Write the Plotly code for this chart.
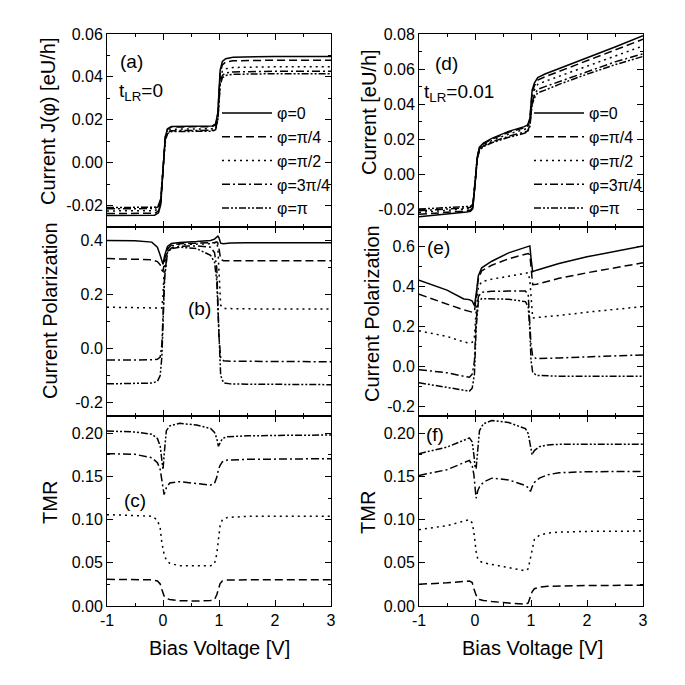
import plotly.graph_objects as go

# ---------------- data ----------------
names = ["φ=0", "φ=π/4", "φ=π/2", "φ=3π/4", "φ=π"]

# (a) current, t_LR = 0
xa = [-1, -0.5, -0.15, -0.08, -0.04, 0, 0.04, 0.08, 0.15, 0.5, 0.88, 0.94, 0.98, 1.0, 1.02, 1.06, 1.12, 1.25, 1.5, 2, 3]
a_phi0 = [-0.0246, -0.0246, -0.0245, -0.0234, -0.0196, -0.0038, 0.0120, 0.0158, 0.0169, 0.0170, 0.0171, 0.0181, 0.0235, 0.0333, 0.0430, 0.0472, 0.0485, 0.0492, 0.0494, 0.0495, 0.0495]
a_phi1 = [-0.0237, -0.0237, -0.0236, -0.0225, -0.0189, -0.0035, 0.0119, 0.0155, 0.0166, 0.0167, 0.0168, 0.0177, 0.0229, 0.0323, 0.0416, 0.0456, 0.0469, 0.0475, 0.0477, 0.0478, 0.0478]
a_phi2 = [-0.0225, -0.0225, -0.0224, -0.0214, -0.0179, -0.0034, 0.0111, 0.0146, 0.0156, 0.0157, 0.0158, 0.0166, 0.0215, 0.0302, 0.0389, 0.0427, 0.0438, 0.0444, 0.0446, 0.0447, 0.0447]
a_phi3 = [-0.0215, -0.0215, -0.0214, -0.0204, -0.0171, -0.0033, 0.0106, 0.0139, 0.0149, 0.0150, 0.0151, 0.0158, 0.0205, 0.0288, 0.0371, 0.0407, 0.0418, 0.0423, 0.0425, 0.0426, 0.0426]
a_phi4 = [-0.0209, -0.0209, -0.0208, -0.0198, -0.0166, -0.0032, 0.0103, 0.0135, 0.0145, 0.0146, 0.0147, 0.0154, 0.0200, 0.0280, 0.0361, 0.0396, 0.0407, 0.0412, 0.0414, 0.0415, 0.0415]

# (b) current polarization, t_LR = 0
xb = [-1, -0.5, -0.2, -0.1, -0.05, -0.02, 0, 0.03, 0.08, 0.15, 0.3, 0.6, 0.85, 0.92, 0.96, 0.98, 1.0, 1.03, 1.08, 1.2, 1.5, 2, 3]
b_phi0 = [0.400, 0.399, 0.394, 0.375, 0.345, 0.318, 0.312, 0.345, 0.378, 0.389, 0.393, 0.396, 0.400, 0.405, 0.412, 0.416, 0.410, 0.390, 0.388, 0.391, 0.392, 0.392, 0.392]
b_phi1 = [0.333, 0.332, 0.329, 0.322, 0.310, 0.290, 0.285, 0.330, 0.370, 0.383, 0.388, 0.390, 0.390, 0.392, 0.395, 0.390, 0.370, 0.330, 0.325, 0.325, 0.325, 0.325, 0.325]
b_phi2 = [0.153, 0.152, 0.151, 0.150, 0.148, 0.150, 0.200, 0.320, 0.368, 0.380, 0.385, 0.387, 0.388, 0.392, 0.395, 0.370, 0.280, 0.160, 0.148, 0.147, 0.147, 0.146, 0.146]
b_phi3 = [-0.043, -0.043, -0.042, -0.040, -0.032, 0.015, 0.130, 0.275, 0.360, 0.372, 0.378, 0.380, 0.375, 0.355, 0.300, 0.200, 0.040, -0.035, -0.045, -0.047, -0.048, -0.048, -0.049]
b_phi4 = [-0.131, -0.130, -0.128, -0.122, -0.100, -0.030, 0.120, 0.265, 0.355, 0.370, 0.375, 0.370, 0.345, 0.320, 0.250, 0.140, 0.000, -0.100, -0.127, -0.131, -0.132, -0.133, -0.134]

# (c) TMR, t_LR = 0
xc = [-1, -0.5, -0.2, -0.1, -0.05, -0.02, 0, 0.02, 0.06, 0.12, 0.3, 0.6, 0.85, 0.92, 0.96, 0.99, 1.02, 1.06, 1.15, 1.5, 2, 3]
c_phi1 = [0.0309, 0.0307, 0.0303, 0.0290, 0.0255, 0.0190, 0.0150, 0.0116, 0.0088, 0.0075, 0.0062, 0.0058, 0.0064, 0.0075, 0.0130, 0.0200, 0.0260, 0.0290, 0.0300, 0.0303, 0.0305, 0.0305]
c_phi2 = [0.1058, 0.1052, 0.1040, 0.0996, 0.0900, 0.0730, 0.0660, 0.0600, 0.0530, 0.0495, 0.0465, 0.0463, 0.0465, 0.0490, 0.0600, 0.0770, 0.0930, 0.1000, 0.1025, 0.1038, 0.1040, 0.1040]
c_phi3 = [0.1764, 0.1756, 0.1717, 0.1660, 0.1580, 0.1470, 0.1360, 0.1290, 0.1370, 0.1425, 0.1440, 0.1417, 0.1400, 0.1420, 0.1490, 0.1580, 0.1630, 0.1670, 0.1690, 0.1698, 0.1702, 0.1706]
c_phi4 = [0.2026, 0.2015, 0.1990, 0.1940, 0.1850, 0.1650, 0.1580, 0.1750, 0.2030, 0.2085, 0.2115, 0.2095, 0.2055, 0.2010, 0.1940, 0.1850, 0.1890, 0.1940, 0.1960, 0.1970, 0.1975, 0.1980]

# (d) current, t_LR = 0.01
xd = [-1, -0.5, -0.15, -0.08, -0.04, 0, 0.04, 0.08, 0.15, 0.3, 0.6, 0.88, 0.94, 0.98, 1.0, 1.02, 1.06, 1.12, 1.25, 1.5, 2, 2.5, 3]
d_phi0 = [-0.0242, -0.0228, -0.0215, -0.0210, -0.0195, -0.0060, 0.0100, 0.0155, 0.0178, 0.0205, 0.0245, 0.0272, 0.0282, 0.0320, 0.0400, 0.0480, 0.0520, 0.0552, 0.0572, 0.0602, 0.0664, 0.0726, 0.0790]
d_phi1 = [-0.0228, -0.0218, -0.0208, -0.0203, -0.0189, -0.0060, 0.0098, 0.0152, 0.0174, 0.0200, 0.0240, 0.0266, 0.0275, 0.0310, 0.0390, 0.0465, 0.0505, 0.0538, 0.0556, 0.0587, 0.0645, 0.0711, 0.0770]
d_phi2 = [-0.0217, -0.0207, -0.0199, -0.0195, -0.0182, -0.0060, 0.0093, 0.0146, 0.0168, 0.0193, 0.0230, 0.0256, 0.0264, 0.0298, 0.0370, 0.0440, 0.0480, 0.0513, 0.0530, 0.0558, 0.0616, 0.0674, 0.0732]
d_phi3 = [-0.0207, -0.0199, -0.0191, -0.0188, -0.0176, -0.0060, 0.0088, 0.0140, 0.0162, 0.0185, 0.0217, 0.0240, 0.0248, 0.0280, 0.0345, 0.0410, 0.0450, 0.0485, 0.0500, 0.0529, 0.0587, 0.0641, 0.0687]
d_phi4 = [-0.0198, -0.0191, -0.0185, -0.0182, -0.0171, -0.0060, 0.0085, 0.0137, 0.0158, 0.0180, 0.0211, 0.0234, 0.0242, 0.0272, 0.0335, 0.0398, 0.0435, 0.0465, 0.0480, 0.0513, 0.0571, 0.0625, 0.0672]

# (e) current polarization, t_LR = 0.01
xe = [-1, -0.5, -0.2, -0.1, -0.05, -0.01, 0.02, 0.06, 0.12, 0.3, 0.6, 0.9, 0.95, 0.98, 1.0, 1.03, 1.1, 1.5, 2, 2.5, 3]
e_phi0 = [0.433, 0.383, 0.338, 0.335, 0.328, 0.305, 0.360, 0.455, 0.495, 0.528, 0.570, 0.598, 0.603, 0.605, 0.545, 0.475, 0.483, 0.517, 0.550, 0.578, 0.605]
e_phi1 = [0.362, 0.312, 0.283, 0.276, 0.272, 0.275, 0.340, 0.440, 0.480, 0.508, 0.540, 0.562, 0.567, 0.560, 0.490, 0.410, 0.412, 0.442, 0.470, 0.495, 0.520]
e_phi2 = [0.178, 0.150, 0.122, 0.117, 0.120, 0.150, 0.275, 0.400, 0.425, 0.438, 0.452, 0.470, 0.470, 0.430, 0.330, 0.243, 0.245, 0.255, 0.272, 0.285, 0.300]
e_phi3 = [-0.017, -0.033, -0.050, -0.055, -0.040, 0.025, 0.225, 0.350, 0.372, 0.377, 0.378, 0.378, 0.360, 0.240, 0.110, 0.050, 0.038, 0.042, 0.047, 0.052, 0.057]
e_phi4 = [-0.083, -0.105, -0.120, -0.125, -0.110, -0.040, 0.190, 0.325, 0.340, 0.340, 0.337, 0.325, 0.300, 0.180, 0.030, -0.030, -0.046, -0.050, -0.050, -0.050, -0.050]

# (f) TMR, t_LR = 0.01
xf = [-1, -0.5, -0.1, -0.05, -0.02, 0, 0.02, 0.05, 0.08, 0.15, 0.3, 0.6, 0.9, 0.95, 0.99, 1.02, 1.06, 1.15, 1.3, 1.5, 2, 3]
f_phi1 = [0.0252, 0.0268, 0.0290, 0.0271, 0.0200, 0.0150, 0.0125, 0.0095, 0.0075, 0.0065, 0.0052, 0.0035, 0.0020, 0.0035, 0.0100, 0.0165, 0.0200, 0.0218, 0.0228, 0.0233, 0.0237, 0.0240]
f_phi2 = [0.0884, 0.0930, 0.1000, 0.0960, 0.0860, 0.0740, 0.0630, 0.0543, 0.0520, 0.0500, 0.0480, 0.0445, 0.0407, 0.0430, 0.0550, 0.0659, 0.0770, 0.0820, 0.0845, 0.0855, 0.0864, 0.0868]
f_phi3 = [0.1512, 0.1578, 0.1686, 0.1628, 0.1520, 0.1395, 0.1248, 0.1335, 0.1380, 0.1434, 0.1480, 0.1460, 0.1395, 0.1370, 0.1326, 0.1380, 0.1430, 0.1480, 0.1520, 0.1543, 0.1555, 0.1558]
f_phi4 = [0.1764, 0.1840, 0.1946, 0.1900, 0.1750, 0.1620, 0.1590, 0.1850, 0.2030, 0.2110, 0.2148, 0.2124, 0.2054, 0.1996, 0.1840, 0.1750, 0.1800, 0.1845, 0.1865, 0.1872, 0.1873, 0.1872]

# tick labels
x_tickvals = [-1, 0, 1, 2, 3]
x_ticktext = ["-1", "0", "1", "2", "3"]
ya_tickvals = [-0.02, 0.0, 0.02, 0.04, 0.06]
ya_ticktext = ["-0.02", "0.00", "0.02", "0.04", "0.06"]
yb_tickvals = [-0.2, 0.0, 0.2, 0.4]
yb_ticktext = ["-0.2", "0.0", "0.2", "0.4"]
yc_tickvals = [0.0, 0.05, 0.10, 0.15, 0.20]
yc_ticktext = ["0.00", "0.05", "0.10", "0.15", "0.20"]
yd_tickvals = [-0.02, 0.0, 0.02, 0.04, 0.06, 0.08]
yd_ticktext = ["-0.02", "0.00", "0.02", "0.04", "0.06", "0.08"]
ye_tickvals = [-0.2, 0.0, 0.2, 0.4, 0.6]
ye_ticktext = ["-0.2", "0.0", "0.2", "0.4", "0.6"]

# ---------------- style ----------------
FONT = "Liberation Sans, Arial, sans-serif"
W = H = 685
dashes = ["solid", "8px,4px", "2px,4px", "8px,3px,2px,3px", "7px,2px,2px,2px,2px,2px"]

def px(x):
    return x / W

def py(y):
    return 1 - y / H

XL = [px(107), px(331)]
XR = [px(419), px(643)]
YROW = [[py(227), py(34)], [py(416), py(227)], [py(606), py(416)]]

fig = go.Figure()

def add(xs, ys_list, idx_list, axis_n, legend_name=None):
    for ys, i in zip(ys_list, idx_list):
        fig.add_trace(go.Scatter(
            x=xs, y=ys, mode="lines", name=names[i],
            line=dict(color="black", width=1.5, dash=dashes[i]),
            xaxis="x" if axis_n == 1 else f"x{axis_n}",
            yaxis="y" if axis_n == 1 else f"y{axis_n}",
            showlegend=legend_name is not None,
            legend=legend_name if legend_name else "legend",
        ))

add(xa, [a_phi0, a_phi1, a_phi2, a_phi3, a_phi4], [0, 1, 2, 3, 4], 1, "legend")
add(xb, [b_phi0, b_phi1, b_phi2, b_phi3, b_phi4], [0, 1, 2, 3, 4], 2)
add(xc, [c_phi1, c_phi2, c_phi3, c_phi4], [1, 2, 3, 4], 3)
add(xd, [d_phi0, d_phi1, d_phi2, d_phi3, d_phi4], [0, 1, 2, 3, 4], 4, "legend2")
add(xe, [e_phi0, e_phi1, e_phi2, e_phi3, e_phi4], [0, 1, 2, 3, 4], 5)
add(xf, [f_phi1, f_phi2, f_phi3, f_phi4], [1, 2, 3, 4], 6)

def xax(domain, anchor, labels):
    return dict(domain=domain, anchor=anchor, range=[-1, 3],
                tickmode="array", tickvals=x_tickvals, ticktext=x_ticktext,
                showticklabels=labels, ticks="inside", ticklen=6, tickwidth=1,
                tickcolor="black", showline=True, linecolor="black", linewidth=1,
                mirror="ticks", showgrid=False, zeroline=False,
                tickfont=dict(family=FONT, size=16, color="black"),
                minor=dict(dtick=0.5, tick0=0, ticks="inside", ticklen=3, tickcolor="black", showgrid=False))

def yax(domain, anchor, rng, tv, tt, mdt):
    return dict(domain=domain, anchor=anchor, range=rng,
                tickmode="array", tickvals=tv, ticktext=tt,
                ticks="inside", ticklen=6, tickwidth=1, tickcolor="black",
                showline=True, linecolor="black", linewidth=1, mirror="ticks",
                showgrid=False, zeroline=False,
                tickfont=dict(family=FONT, size=16, color="black"),
                minor=dict(dtick=mdt, tick0=0, ticks="inside", ticklen=3, tickcolor="black", showgrid=False))

def legend_cfg(x, y):
    return dict(x=x, y=y, bgcolor="rgba(0,0,0,0)", borderwidth=0, xanchor="left", yanchor="top",
                font=dict(family=FONT, size=16, color="black"), itemwidth=50,
                tracegroupgap=0)

fig.update_layout(
    width=W, height=H, margin=dict(l=0, r=0, t=0, b=0, autoexpand=False),
    font=dict(family=FONT, size=16, color="black"),
    paper_bgcolor="white", plot_bgcolor="white",
    xaxis=xax(XL, "y", False), yaxis=yax(YROW[0], "x", [-0.03, 0.06], ya_tickvals, ya_ticktext, 0.01),
    xaxis2=xax(XL, "y2", False), yaxis2=yax(YROW[1], "x2", [-0.25, 0.45], yb_tickvals, yb_ticktext, 0.1),
    xaxis3=xax(XL, "y3", True), yaxis3=yax(YROW[2], "x3", [0, 0.22], yc_tickvals, yc_ticktext, 0.025),
    xaxis4=xax(XR, "y4", False), yaxis4=yax(YROW[0], "x4", [-0.03, 0.08], yd_tickvals, yd_ticktext, 0.01),
    xaxis5=xax(XR, "y5", False), yaxis5=yax(YROW[1], "x5", [-0.25, 0.70], ye_tickvals, ye_ticktext, 0.1),
    xaxis6=xax(XR, "y6", True), yaxis6=yax(YROW[2], "x6", [0, 0.22], yc_tickvals, yc_ticktext, 0.025),
    legend=legend_cfg(px(217), py(96)),
    legend2=legend_cfg(px(529), py(96)),
)

def ann(text, x, y, size=19, angle=0, xanchor="center"):
    fig.add_annotation(text=text, x=px(x), y=py(y), xref="paper", yref="paper",
                       showarrow=False, textangle=angle, xanchor=xanchor, yanchor="middle",
                       font=dict(family=FONT, size=size, color="black"))

ann("(a)", 131, 61)
ann("t<sub>LR</sub>=0", 117, 92, xanchor="left")
ann("(b)", 199, 308)
ann("(c)", 135, 500)
ann("(d)", 446, 64)
ann("t<sub>LR</sub>=0.01", 422, 93, xanchor="left")
ann("(e)", 439, 247)
ann("(f)", 435, 434)

ann("Current J(φ) [eU/h]", 48, 122, size=20, angle=-90)
ann("Current Polarization", 50, 310, size=20, angle=-90)
ann("TMR", 50, 502, size=20, angle=-90)
ann("Current [eU/h]", 369, 112, size=20, angle=-90)
ann("Current Polarization", 372, 314, size=20, angle=-90)
ann("TMR", 368, 513, size=20, angle=-90)
ann("Bias Voltage [V]", 219, 648, size=20)
ann("Bias Voltage [V]", 532, 648, size=20)

fig.write_html("out.html", config={"displayModeBar": False},
               post_script="document.body.style.margin='0';")
